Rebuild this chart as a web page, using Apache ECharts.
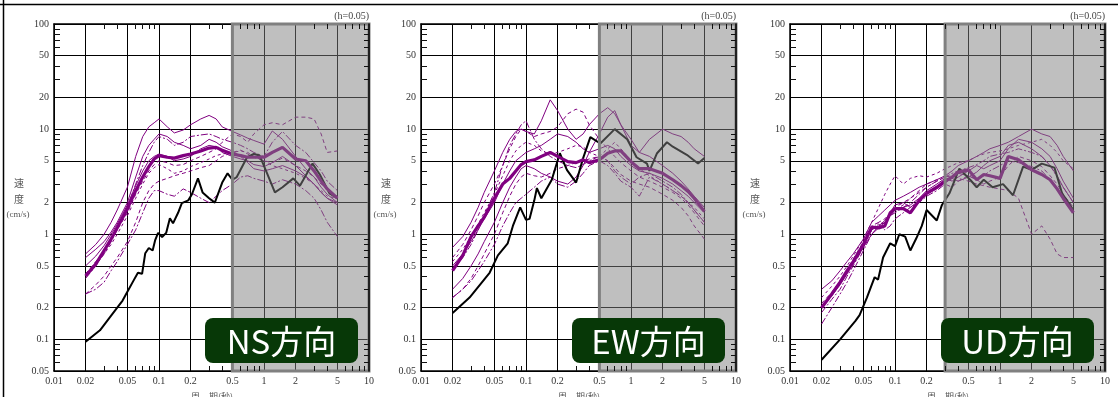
<!DOCTYPE html>
<html><head><meta charset="utf-8">
<script src="https://cdn.jsdelivr.net/npm/echarts@6/dist/echarts.min.js"></script>
<style>html,body{margin:0;padding:0;background:#fff}#c{width:1118px;height:397px}</style>
</head><body><div id="c"></div><script>
// ---- data ----
const PERIODS = [0.02,0.025,0.03,0.035,0.04,0.05,0.06,0.07,0.08,0.09,0.1,0.12,0.14,0.17,0.2,0.25,0.3,0.35,0.4,0.5,0.6,0.7,0.8,1.0,1.2,1.5,2.0,2.5,3.0,3.5,4.0,5.0];
const X_TICKS = [0.01,0.02,0.05,0.1,0.2,0.5,1,2,5,10];
const Y_TICKS = [0.05,0.1,0.2,0.5,1,2,5,10,20,50,100];
const X_MINOR = [0.03,0.04,0.06,0.07,0.08,0.09,0.3,0.4,0.6,0.7,0.8,0.9,3,4,6,7,8,9];
const Y_MINOR = [0.06,0.07,0.08,0.09,0.3,0.4,0.6,0.7,0.8,0.9,3,4,6,7,8,9,30,40,60,70,80,90];
const PANEL_TITLES = ['NS方向','EW方向','UD方向'];
const SHADE_START = [0.5, 0.5, 0.3];

// NS
const NS_MEAN = [0.4,0.52,0.7,0.9,1.15,1.75,2.6,3.5,4.4,5.2,5.6,5.4,5.3,5.6,5.8,6.2,6.6,6.7,6.3,5.8,5.6,5.4,5.4,5.4,6.0,6.7,5.2,5.0,4.0,3.2,2.7,2.2];
const NS_OBS_T = [0.02,0.0274,0.034,0.045,0.0506,0.057,0.063,0.069,0.074,0.08,0.087,0.092,0.098,0.107,0.117,0.127,0.136,0.152,0.165,0.19,0.206,0.235,0.26,0.30,0.34,0.40,0.45,0.5,0.55,0.69,0.8,0.91,1.07,1.27,1.5,1.9,2.2,2.9,3.4,4.2,5.0];
const NS_OBS = [0.095,0.122,0.162,0.234,0.29,0.36,0.43,0.42,0.66,0.74,0.7,0.88,1.03,0.94,1.03,1.42,1.27,1.6,1.98,2.1,2.4,3.4,2.5,2.2,2.0,3.1,3.8,3.3,3.5,5.4,5.8,5.6,3.8,2.5,2.8,3.4,2.9,4.7,3.7,2.45,2.2];
const NS_S1 = [0.65,0.8,1.0,1.3,1.7,2.8,5.5,8.5,10.5,11.5,12.5,10.5,9.2,9.8,11,12.5,13.5,12.5,10.5,9.5,8.8,8.2,7.8,7.2,9.6,8,5.5,4.2,3.5,2.8,2.4,2.0];
const NS_S2 = [0.42,0.55,0.7,0.9,1.1,1.6,2.4,3.2,4.0,4.6,5.0,4.8,4.5,4.6,5.0,5.5,6.0,6.5,7.5,9,8.5,7.5,9,11,11.5,11,13,13,12.5,9,6,6.2];
const NS_S3 = [0.38,0.5,0.65,0.85,1.1,1.8,3.0,4.5,6.0,7.5,8.5,8.0,7.0,7.5,8.5,8.8,9.0,8.5,8.0,7.5,7.0,6.5,6.0,5.5,7.5,9.5,7,6,4.8,4,3.2,2.6];
const NS_S4 = [0.6,0.72,0.85,1.05,1.3,2.0,3.5,5.5,7.0,8.0,9.0,8.5,7.5,7.0,6.5,7.0,8.0,7.5,6.8,6.2,5.5,4.8,4.2,4.0,4.2,4.5,4.0,3.5,3.0,2.5,2.2,1.9];
const NS_S5 = [0.27,0.33,0.4,0.5,0.6,0.85,1.3,2.0,2.6,3.0,3.2,3.4,3.6,3.8,4.0,4.3,4.5,5.0,5.5,6.0,6.3,5.8,5.4,5.0,4.8,5.3,4.5,4.0,3.5,3.0,2.7,2.3];
const NS_S6 = [0.27,0.3,0.35,0.45,0.55,0.8,1.1,1.6,2.2,2.6,2.6,2.4,2.3,2.7,2.5,2.2,2.0,2.3,2.6,3.0,3.5,3.6,3.4,3.2,3.0,3.3,3.0,2.6,2.2,1.7,1.3,0.95];
const NS_S7 = [0.5,0.62,0.78,1.0,1.25,1.9,2.9,4.0,5.0,5.5,5.8,5.5,5.0,5.2,5.5,6.5,7.0,6.8,6.0,5.5,5.2,5.0,4.6,4.4,4.8,5.5,4.5,3.6,3.0,2.5,2.2,2.0];
const NS_S8 = [0.42,0.52,0.65,0.8,1.0,1.5,2.2,3.0,3.8,4.3,4.6,4.2,3.8,4.0,4.4,4.8,5.2,5.6,5.8,6.0,6.2,6.0,5.5,5.0,4.5,4.2,3.8,3.4,3.0,2.6,2.3,2.2];

// EW
const EW_MEAN = [0.45,0.63,0.95,1.2,1.45,2.2,3.0,3.4,4.0,4.6,4.9,5.1,5.5,6.0,5.5,4.9,4.8,5.1,4.8,5.1,5.9,6.2,6.2,4.9,4.2,4.2,3.8,3.3,2.9,2.55,2.2,1.65];
const EW_OBS_T = [0.02,0.029,0.045,0.054,0.067,0.075,0.088,0.1,0.108,0.12,0.127,0.14,0.176,0.21,0.245,0.3,0.35,0.41,0.51,0.7,0.92,1.13,1.42,1.5,1.77,2.2,2.5,3.4,4.35,5.0];
const EW_OBS = [0.178,0.25,0.43,0.63,0.82,1.2,1.8,1.37,1.4,2.1,2.75,2.2,3.3,5.9,4.1,3.1,5.3,8.4,7.3,10,8.0,5.4,4.7,4.0,5.9,7.5,6.8,5.7,4.7,5.3];
const EW_S1 = [0.75,0.95,1.3,1.8,2.5,4,6,8,9.5,10,9.5,9,12,19,15,10,8,9,11,14,16,14,11,8,6,5.5,4.5,3.8,3.2,2.7,2.3,1.8];
const EW_S2 = [0.6,0.8,1.1,1.5,2.0,3.0,4.5,6.5,8.5,10,9.5,8.5,9,9.5,10.5,14,15.5,14.5,11,8,6.5,5.5,4.8,4,3.5,3.2,2.8,2.5,2.2,1.9,1.6,1.2];
const EW_S3 = [0.45,0.6,0.8,1.1,1.5,2.5,4.5,7,9,11,12,8,6.5,5.5,5,4.5,4.3,4.6,5,5.5,5,4,3.5,3.0,3.5,3.8,3.2,2.8,2.4,2,1.7,1.3];
const EW_S4 = [0.3,0.38,0.5,0.65,0.85,1.3,2,2.8,3.5,4.2,4.5,4.2,3.8,3.5,3.2,3,3.5,4.5,6,9,13,15,11,7,6,8,10,9,8.5,7.5,6.5,5.5];
const EW_S5 = [0.25,0.3,0.38,0.5,0.65,1,1.6,2.3,3,3.5,3.8,3.6,3.5,3.8,4.2,4.5,4.8,5,5.2,5.5,5,4.3,3.7,3.2,3,2.8,2.4,2.1,1.8,1.5,1.2,0.9];
const EW_S6 = [0.25,0.3,0.36,0.45,0.55,0.8,1.2,1.6,2.0,2.2,2.4,2.8,3.2,3.5,3.0,2.8,3.2,3.8,4.5,5.0,4.5,3.8,3.2,2.8,2.3,3.5,3.0,2.6,2.3,2.0,1.7,1.3];
const EW_S7 = [0.5,0.65,0.85,1.1,1.4,2,3,4,5,5.5,6,6.5,7,8,9,8.5,7.5,6.5,6,6.5,7,6.5,5.5,4.5,4,3.8,3.4,3,2.6,2.3,2,1.6];
const EW_S8 = [0.55,0.72,0.95,1.25,1.6,2.4,3.6,5,6.2,7,7.5,7,6.2,5.8,6,6.5,7,6.8,6,5.5,6.5,7.5,6.5,5,4.2,3.6,3,2.6,2.3,2.0,1.8,1.4];

// UD
const UD_MEAN = [0.2,0.27,0.35,0.45,0.55,0.8,1.17,1.15,1.2,1.6,1.75,1.75,1.6,2.1,2.45,2.8,3.2,3.5,3.9,4.1,3.3,3.7,3.6,3.4,5.5,5.1,4.1,3.7,3.3,2.7,2.2,1.6];
const UD_OBS_T = [0.02,0.03,0.042,0.046,0.054,0.064,0.069,0.077,0.09,0.1,0.11,0.125,0.14,0.16,0.18,0.2,0.25,0.28,0.33,0.41,0.52,0.6,0.7,0.85,1.07,1.33,1.66,2.0,2.5,3.3,3.9,4.9];
const UD_OBS = [0.064,0.1,0.15,0.17,0.25,0.39,0.37,0.6,0.82,0.77,1.0,0.95,0.7,0.92,1.2,1.7,1.35,1.9,2.45,4.2,3.3,2.8,3.3,2.8,3.0,2.35,4.4,4.1,4.7,4.3,2.45,1.75];
const UD_S1 = [0.3,0.36,0.45,0.55,0.65,0.9,1.3,1.5,1.7,1.9,2.1,2.3,2.5,2.8,3.0,3.3,3.6,4,4.5,5,5.5,6,6.5,7,7.5,8.5,10,9,8.5,7,5.5,4];
const UD_S2 = [0.22,0.28,0.36,0.45,0.55,0.8,1.1,1.3,1.4,1.6,1.8,2,2.2,2.5,2.8,3.2,3.5,3.6,3.4,3.2,3.0,2.9,2.8,2.7,2.6,2.2,1.0,1.2,0.9,0.65,0.6,0.6];
const UD_S3 = [0.14,0.2,0.27,0.35,0.45,0.7,1.0,1.2,1.3,1.5,1.6,1.8,2.0,2.4,2.8,3.2,3.5,3.8,4,4.3,4.6,5,5.5,5.8,6,6.5,6,5.5,4.5,3.5,2.8,2.0];
const UD_S4 = [0.2,0.26,0.33,0.42,0.52,0.75,1.0,1.15,1.3,1.5,1.7,1.8,1.9,2.2,2.6,3,3.4,3.2,3.5,4,4.5,4.2,4.5,5,6.5,8,7.5,6.5,5.5,4.2,3.2,2.2];
const UD_S5 = [0.21,0.27,0.36,0.46,0.58,0.85,1.2,1.3,1.25,1.5,1.7,1.9,2.2,2.6,3.0,3.3,3.0,2.8,3.2,3.6,3.3,3.0,3.2,3.5,4.5,5.5,5.0,4.4,3.6,3.0,2.4,1.8];
const UD_S6 = [0.18,0.24,0.3,0.4,0.5,0.75,1.1,1.25,1.1,1.2,1.4,1.6,1.8,2,2.3,2.6,3,3.5,3.8,3.6,3.3,3.6,4.0,4.5,5,4.8,4.4,4,3.3,2.7,2.2,1.7];
const UD_S7 = [0.2,0.26,0.34,0.43,0.54,0.8,1.1,1.2,1.35,1.6,1.9,2.0,1.8,2.1,2.4,2.7,3.1,3.4,3.2,3.5,3.9,4.5,5,5.5,7,7.5,6.5,5.5,4.5,3.6,2.8,2.0];
const UD_S8 = [0.25,0.32,0.4,0.5,0.62,0.9,1.3,1.8,2.4,3.0,3.6,3.0,3.4,3.6,3.5,3.8,4.2,4.5,4.8,5,5.5,5.8,6,6.2,6.5,7,7.5,8,7,6,5,4.2];

const PANEL_DATA = [
  {mean: NS_MEAN, obsT: NS_OBS_T, obs: NS_OBS, thin: [NS_S1,NS_S2,NS_S3,NS_S4,NS_S5,NS_S6,NS_S7,NS_S8]},
  {mean: EW_MEAN, obsT: EW_OBS_T, obs: EW_OBS, thin: [EW_S1,EW_S2,EW_S3,EW_S4,EW_S5,EW_S6,EW_S7,EW_S8]},
  {mean: UD_MEAN, obsT: UD_OBS_T, obs: UD_OBS, thin: [UD_S1,UD_S2,UD_S3,UD_S4,UD_S5,UD_S6,UD_S7,UD_S8]}
];

// ---- layout / style ----
const LEFTS = [54, 421, 790];
const GW = 315, GTOP = 24, GH = 347;
const PURPLE = '#800080';
const DASHES = ['solid', [4,3], [7,2,2,2], 'solid', [4,3], [7,2,2,2], 'solid', [3,3]];
const SERIF = 'Liberation Serif';
const fmt = v => String(+(+v).toPrecision(3));

const chart = echarts.init(document.getElementById('c'), null, {renderer:'canvas'});
const grid = [], xAxis = [], yAxis = [], series = [], graphic = [];

PANEL_DATA.forEach((pd, i) => {
  grid.push({left: LEFTS[i], top: GTOP, width: GW, height: GH, containLabel: false});
  const base = {gridIndex: i, type: 'log', logBase: 10, min: 0.01, max: 10, silent: true};
  const xi = xAxis.length;
  xAxis.push(Object.assign({}, base, {position: 'bottom', z: 0,
    axisLine: {show: true, onZero: false, lineStyle: {color: '#000', width: 1.5}},
    axisTick: {show: false, customValues: X_TICKS},
    axisLabel: {show: true, customValues: X_TICKS, formatter: fmt, color: '#333', fontFamily: SERIF, fontSize: 10, margin: 5},
    splitLine: {show: true, lineStyle: {color: '#000', width: 1}}, minorTick: {show: false}, minorSplitLine: {show: false}}));
  xAxis.push(Object.assign({}, base, {position: 'bottom', z: 12,
    axisLine: {show: false, onZero: false},
    axisTick: {show: true, inside: true, length: 5, customValues: X_MINOR, lineStyle: {color: '#111', width: 1}},
    axisLabel: {show: false}, splitLine: {show: false}}));
  xAxis.push(Object.assign({}, base, {position: 'top', z: 0,
    axisLine: {show: true, onZero: false, lineStyle: {color: '#000', width: 1.5}},
    axisTick: {show: false}, axisLabel: {show: false}, splitLine: {show: false}}));
  xAxis.push(Object.assign({}, base, {position: 'top', z: 12,
    axisLine: {show: false, onZero: false},
    axisTick: {show: true, inside: true, length: 5, customValues: X_MINOR, lineStyle: {color: '#111', width: 1}},
    axisLabel: {show: false}, splitLine: {show: false}}));

  const ybase = {gridIndex: i, type: 'log', logBase: 10, min: 0.05, max: 100, silent: true};
  const yi = yAxis.length;
  yAxis.push(Object.assign({}, ybase, {position: 'left', z: 0,
    axisLine: {show: true, onZero: false, lineStyle: {color: '#000', width: 1.5}},
    axisTick: {show: false, customValues: Y_TICKS},
    axisLabel: {show: true, customValues: Y_TICKS, formatter: fmt, color: '#333', fontFamily: SERIF, fontSize: 10, margin: 5},
    splitLine: {show: true, lineStyle: {color: '#000', width: 1}}, minorTick: {show: false}}));
  yAxis.push(Object.assign({}, ybase, {position: 'left', z: 12,
    axisLine: {show: false, onZero: false},
    axisTick: {show: true, inside: true, length: 6, customValues: Y_MINOR, lineStyle: {color: '#111', width: 1}},
    axisLabel: {show: false}, splitLine: {show: false}}));
  yAxis.push(Object.assign({}, ybase, {position: 'right', z: 12,
    axisLine: {show: true, onZero: false, lineStyle: {color: '#000', width: 1.5}},
    axisTick: {show: true, inside: true, length: 5, customValues: Y_MINOR, lineStyle: {color: '#111', width: 1}},
    axisLabel: {show: false}, splitLine: {show: false}}));

  const common = {type: 'line', xAxisIndex: xi, yAxisIndex: yi, symbol: 'none', showSymbol: false, silent: true, animation: false, z: 2};
  pd.thin.forEach((arr, k) => {
    series.push(Object.assign({}, common, {
      data: PERIODS.map((p, j) => [p, arr[j]]),
      lineStyle: {color: PURPLE, width: 1, type: DASHES[k]}
    }));
  });
  series.push(Object.assign({}, common, {
    data: pd.obsT.map((p, j) => [p, pd.obs[j]]),
    lineStyle: {color: '#000', width: 2}, z: 3
  }));
  series.push(Object.assign({}, common, {
    data: PERIODS.map((p, j) => [p, pd.mean[j]]),
    lineStyle: {color: PURPLE, width: 3.2}, z: 4
  }));
  series.push(Object.assign({}, common, {
    data: [], z: 10,
    markArea: {silent: true, z: 10,
      itemStyle: {color: 'rgba(128,128,128,0.5)', borderColor: '#808080', borderWidth: 3},
      data: [[{xAxis: SHADE_START[i], yAxis: 0.05}, {xAxis: 10, yAxis: 100}]]}
  }));

  const L = LEFTS[i];
  graphic.push({type: 'text', right: 1118 - (L + GW), top: 11, z: 50,
    style: {text: '(h=0.05)', fill: '#444', font: '10px "Liberation Serif"'}});
  graphic.push({type: 'text', x: L - 35, y: 183, z: 50,
    style: {text: '速', fill: '#555', font: '10px "Noto Sans CJK JP"', align: 'center', verticalAlign: 'middle'}});
  graphic.push({type: 'text', x: L - 35, y: 199, z: 50,
    style: {text: '度', fill: '#555', font: '10px "Noto Sans CJK JP"', align: 'center', verticalAlign: 'middle'}});
  graphic.push({type: 'text', x: L - 36, y: 215, z: 50,
    style: {text: '(cm/s)', fill: '#555', font: '9px "Liberation Serif"', align: 'center', verticalAlign: 'middle'}});
  graphic.push({type: 'text', x: L + 158, y: 392, z: 50,
    style: {text: '周　期(秒)', fill: '#555', font: '9px "Noto Sans CJK JP"', align: 'center', verticalAlign: 'top'}});
  graphic.push({type: 'rect', x: L + 151, y: 318, z: 100, zlevel: 1,
    shape: {x: 0, y: 0, width: 153, height: 45, r: 8}, style: {fill: '#073807'}});
  graphic.push({type: 'text', x: L + 151 + 76.5, y: 341, z: 101, zlevel: 1,
    style: {text: PANEL_TITLES[i], fill: '#fff', font: '33px "Noto Sans CJK JP"', align: 'center', verticalAlign: 'middle'}});
});

graphic.push({type: 'line', z: 60, shape: {x1: 0, y1: 4.5, x2: 1118, y2: 4.5}, style: {stroke: '#000', lineWidth: 1.5}});
graphic.push({type: 'line', z: 60, shape: {x1: 3.5, y1: 0, x2: 3.5, y2: 397}, style: {stroke: '#000', lineWidth: 1.5}});

chart.setOption({animation: false, backgroundColor: '#fff', grid, xAxis, yAxis, series, graphic});
</script></body></html>
